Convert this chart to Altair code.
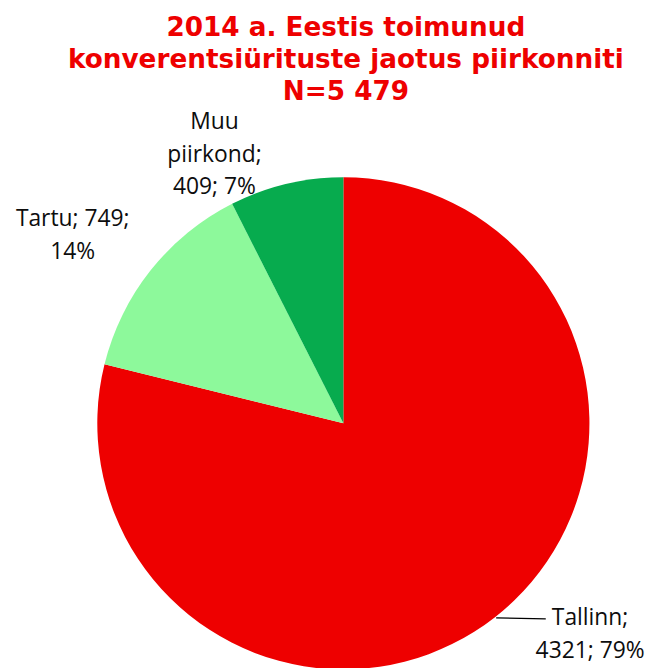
import altair as alt
import pandas as pd

categories = ["Tallinn", "Tartu", "Muu piirkond"]
values = [4321, 749, 409]
percents = [79, 14, 7]
label_lines = [["Tallinn;", "4321; 79%"], ["Tartu; 749;", "14%"], ["Muu", "piirkond;", "409; 7%"]]
colors = ["#EE0000", "#8DF99B", "#07AB4E"]
title_lines = ["2014 a. Eestis toimunud", "konverentsiürituste jaotus piirkonniti", "N=5 479"]

df = pd.DataFrame({
    "piirkond": categories,
    "arv": values,
    "protsent": percents,
    "silt": label_lines,
    "jrk": list(range(len(categories))),
})
total = sum(values)

CX, CY, R = 338, 309, 248
theta_scale = alt.Scale(domain=[0, total])

pie = alt.Chart(df).mark_arc(outerRadius=R, stroke=None).encode(
    theta=alt.Theta("arv:Q", stack=True, scale=theta_scale),
    order=alt.Order("jrk:Q"),
    color=alt.Color("piirkond:N", scale=alt.Scale(domain=categories, range=colors), legend=None),
    x=alt.value(CX),
    y=alt.value(CY),
)

lbl_base = alt.Chart(df).transform_window(
    cum="sum(arv)", sort=[alt.SortField("jrk")], frame=[None, 0]
).transform_calculate(
    mid="datum.cum - datum.arv / 2"
)

label_style = dict(font="Open Sans", fontSize=23, lineHeight=33, color="#0D0D0D",
                   align="center", baseline="middle")
offsets = {
    "Tallinn": dict(radius=324, dx=49, dy=-59),
    "Tartu": dict(radius=332, dx=-13, dy=1),
    "Muu piirkond": dict(radius=301, dx=-60, dy=-11),
}

label_layers = []
for cat in categories:
    label_layers.append(
        lbl_base.transform_filter(alt.datum.piirkond == cat).mark_text(
            **label_style, **offsets[cat]
        ).encode(
            theta=alt.Theta("mid:Q", stack=None, scale=theta_scale),
            text="silt",
            x=alt.value(CX),
            y=alt.value(CY),
        )
    )

leader = alt.Chart(df).transform_filter(alt.datum.piirkond == "Tallinn").mark_rule(
    color="#000000", strokeWidth=1.2
).encode(
    x=alt.value(CX + 154), x2=alt.value(CX + 204),
    y=alt.value(CY + 196), y2=alt.value(CY + 197),
)

chart = alt.layer(pie, leader, *label_layers).properties(
    width=637,
    height=525,
    padding={"top": 4, "left": 0, "right": 0, "bottom": 0},
    title=alt.Title(
        text=title_lines,
        font="DejaVu Sans",
        fontSize=26.5,
        fontWeight="bold",
        color="#EE0000",
        lineHeight=32,
        anchor="middle",
        dx=22,
        offset=6,
    ),
).configure_view(stroke=None)

chart.save("out.html", embed_options={"renderer": "svg", "actions": False})
